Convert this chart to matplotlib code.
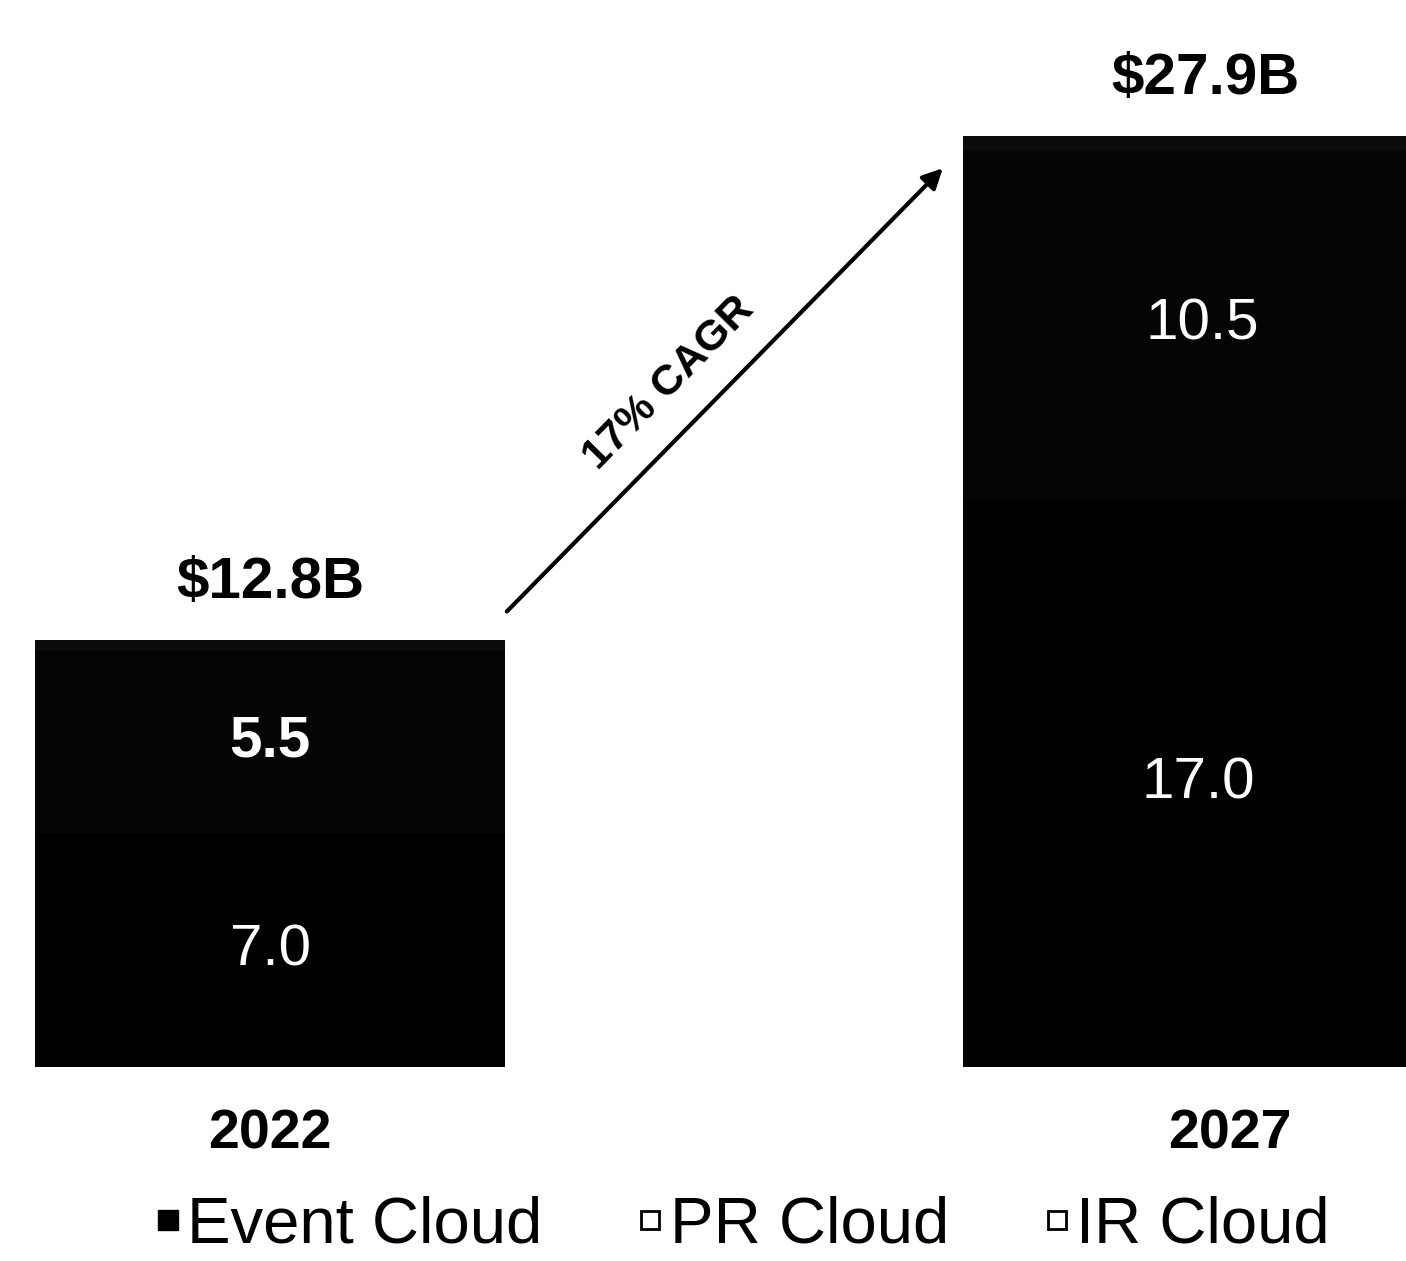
import numpy as np
import matplotlib.pyplot as plt
from matplotlib.lines import Line2D

plt.rcParams['font.family'] = ['Liberation Sans', 'DejaVu Sans']

# market size by segment, $B
years = ['2022', '2027']
event_cloud = [7.0, 17.0]
pr_cloud = [5.5, 10.5]
ir_cloud = [0.3, 0.4]
totals = ['$12.8B', '$27.9B']
cagr_label = '17% CAGR'

seg_colors = ['#000000', '#050505', '#0c0c0c']

fig = plt.figure(figsize=(14.06, 12.61), dpi=100)
ax = fig.add_axes([0, 0.1535, 1, 0.8465])

x = np.arange(len(years))
w = 0.506
ax.bar(x, event_cloud, w, color=seg_colors[0], label='Event Cloud')
bottom2 = np.array(event_cloud)
ax.bar(x, pr_cloud, w, bottom=bottom2, color=seg_colors[1], label='PR Cloud')
bottom3 = bottom2 + np.array(pr_cloud)
ax.bar(x, ir_cloud, w, bottom=bottom3, color=seg_colors[2], label='IR Cloud')
top = bottom3 + np.array(ir_cloud)

# segment values inside the bars
for i in range(len(years)):
    ax.text(x[i], event_cloud[i] / 2, f'{event_cloud[i]:.1f}', color='white',
            ha='center', va='center', fontsize=42)
    ax.text(x[i] + 0.005 * i, bottom2[i] + pr_cloud[i] / 2, f'{pr_cloud[i]:.1f}', color='white',
            ha='center', va='center', fontsize=42, fontweight='bold' if i == 0 else 'normal')
    ax.text(x[i] + 0.008 * i, top[i] + 1.7, totals[i], ha='center', va='center',
            fontsize=42, fontweight='bold')

# CAGR arrow between the bars
ax.annotate('', xy=(0.727, 27.0), xytext=(0.253, 13.6),
            arrowprops=dict(arrowstyle='-|>', color='black', lw=3, mutation_scale=30))
ax.text(0.43, 20.5, cagr_label, rotation=45.5, ha='center', va='center',
        fontsize=31, fontweight='bold', rotation_mode='anchor')

ax.set_xlim(-0.291, 1.224)
ax.set_ylim(0, 31.98)
ax.axis('off')

# year labels under the bars (2027 sits a bit right of its bar centre)
year_shift = [0.0, 0.034]
for i, yr in enumerate(years):
    ax.text(x[i] + year_shift[i], -2.0, yr, ha='center', va='center', fontsize=40,
            fontweight='bold', clip_on=False)

handles = [
    Line2D([], [], marker='s', linestyle='none', markersize=15,
           markerfacecolor='black', markeredgecolor='black'),
    Line2D([], [], marker='s', linestyle='none', markersize=13,
           markerfacecolor='white', markeredgecolor='black', markeredgewidth=2),
    Line2D([], [], marker='s', linestyle='none', markersize=13,
           markerfacecolor='white', markeredgecolor='black', markeredgewidth=2),
]
fig.legend(handles, ['Event Cloud', 'PR Cloud', 'IR Cloud'], loc='center',
           bbox_to_anchor=(0.528, 0.028), ncol=3, frameon=False, fontsize=47,
           handlelength=0.4, handletextpad=0.1, columnspacing=1.45,
           borderpad=0.1)

fig.savefig('out.png', dpi=100)
